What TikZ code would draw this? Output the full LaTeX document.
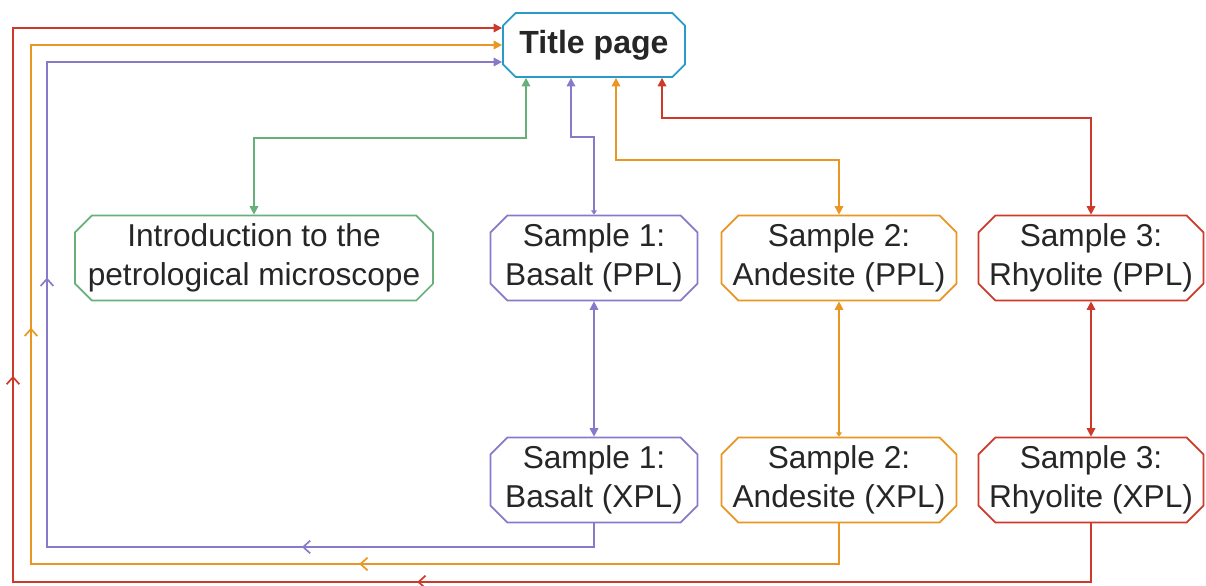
\documentclass[tikz,border=0pt]{standalone}
\usepackage{fontspec}
\setmainfont{Liberation Sans}
\usetikzlibrary{arrows.meta,positioning}
\usetikzlibrary{calc, shapes.misc, decorations.markings}

\definecolor{titleblue}{RGB}{42,155,196}
\definecolor{introgreen}{RGB}{104,176,122}
\definecolor{basaltpurple}{RGB}{136,122,202}
\definecolor{andesiteorange}{RGB}{234,150,34}
\definecolor{rhyolitered}{RGB}{206,58,42}

\begin{document}
\begin{tikzpicture}[x=0.025cm, y=-0.025cm]

  % --- 定義樣式 ---
  \tikzset{
    % 每一頁的方框:切角矩形、白底、細字
    pagebox/.style={
      chamfered rectangle,
      chamfered rectangle xsep=6pt,
      chamfered rectangle ysep=6pt,
      draw,
      line width=1.2pt,
      fill=white,
      text=black!85,
      font=\fontsize{22.5}{27.5}\selectfont,
      align=center,
      minimum height=2.125cm,
      inner sep=0pt
    },
    % 標題頁的方框
    titlebox/.style={
      pagebox,
      draw=titleblue,
      chamfered rectangle xsep=4.5pt,
      chamfered rectangle ysep=4.5pt,
      font=\bfseries\fontsize{22.8}{26}\selectfont,
      minimum width=4.55cm,
      minimum height=1.6cm
    },
    % 雙向連線
    link/.style={
      line width=1.2pt,
      {Triangle[length=6pt,width=6pt]}-{Triangle[length=6pt,width=6pt]}
    },
    % 只有一端是小箭頭的連線
    halflink/.style={
      line width=1.2pt,
      {Triangle[length=6pt,width=6pt]}-{Triangle[length=3pt,width=4pt]}
    },
    % 回到標題頁的外圈連線,中途加上開口箭頭
    backlink/.style 2 args={
      line width=1.2pt,
      -{Triangle[length=6pt,width=6pt]},
      decoration={markings,
        mark=at position #1 with {\arrow{Straight Barb[length=5pt,width=9pt]}},
        mark=at position #2 with {\arrow{Straight Barb[length=5pt,width=9pt]}}},
      postaction={decorate}
    }
  }

  % 固定圖面大小
  \useasboundingbox (0,0) rectangle (1206,586);

  % --- 繪製方框 ---

  % 1. 標題頁
  \node[titlebox] (title) at (594,45) {Title page};

  % 2. 顯微鏡介紹
  \node[pagebox, draw=introgreen, minimum width=8.95cm] (intro) at (254,258) {Introduction to the\\petrological microscope};

  % 3. 單偏光 (PPL)
  \node[pagebox, draw=basaltpurple, minimum width=5.175cm] (s1p) at (594,258) {Sample 1:\\Basalt (PPL)};
  \node[pagebox, draw=andesiteorange, minimum width=5.875cm] (s2p) at (839,258) {Sample 2:\\Andesite (PPL)};
  \node[pagebox, draw=rhyolitered, minimum width=5.625cm] (s3p) at (1091,258) {Sample 3:\\Rhyolite (PPL)};

  % 4. 正交偏光 (XPL)
  \node[pagebox, draw=basaltpurple, minimum width=5.175cm] (s1x) at (594,480) {Sample 1:\\Basalt (XPL)};
  \node[pagebox, draw=andesiteorange, minimum width=5.875cm] (s2x) at (839,480) {Sample 2:\\Andesite (XPL)};
  \node[pagebox, draw=rhyolitered, minimum width=5.625cm] (s3x) at (1091,480) {Sample 3:\\Rhyolite (XPL)};

  % --- 標題頁與各頁的連線 ---
  \draw[link, draw=introgreen] ($(title.south)+(-68,0)$) -- ++(0,60) -| (intro.north);
  \draw[halflink, draw=basaltpurple] ($(title.south)+(-23,0)$) -- ++(0,59) -| (s1p.north);
  \draw[link, draw=andesiteorange] ($(title.south)+(22,0)$) -- ++(0,82) -| (s2p.north);
  \draw[link, draw=rhyolitered] ($(title.south)+(68,0)$) -- ++(0,40) -| (s3p.north);

  % --- PPL 與 XPL 之間 ---
  \draw[link, draw=basaltpurple] (s1p.south) -- (s1x.north);
  \draw[halflink, draw=andesiteorange] (s2p.south) -- (s2x.north);
  \draw[link, draw=rhyolitered] (s3p.south) -- (s3x.north);

  % --- 外圈:從 XPL 回到標題頁 ---
  \coordinate (pcorner) at (47,547);
  \coordinate (ocorner) at (31,564);
  \coordinate (rcorner) at (13,582);

  \draw[backlink={0.209}{0.556}, draw=basaltpurple] (s1x.south) |- (pcorner) |- ($(title.west)+(0,17)$);
  \draw[backlink={0.283}{0.590}, draw=andesiteorange] (s2x.south) |- (ocorner) |- (title.west);
  \draw[backlink={0.336}{0.616}, draw=rhyolitered] (s3x.south) |- (rcorner) |- ($(title.west)+(0,-17)$);

\end{tikzpicture}
\end{document}
